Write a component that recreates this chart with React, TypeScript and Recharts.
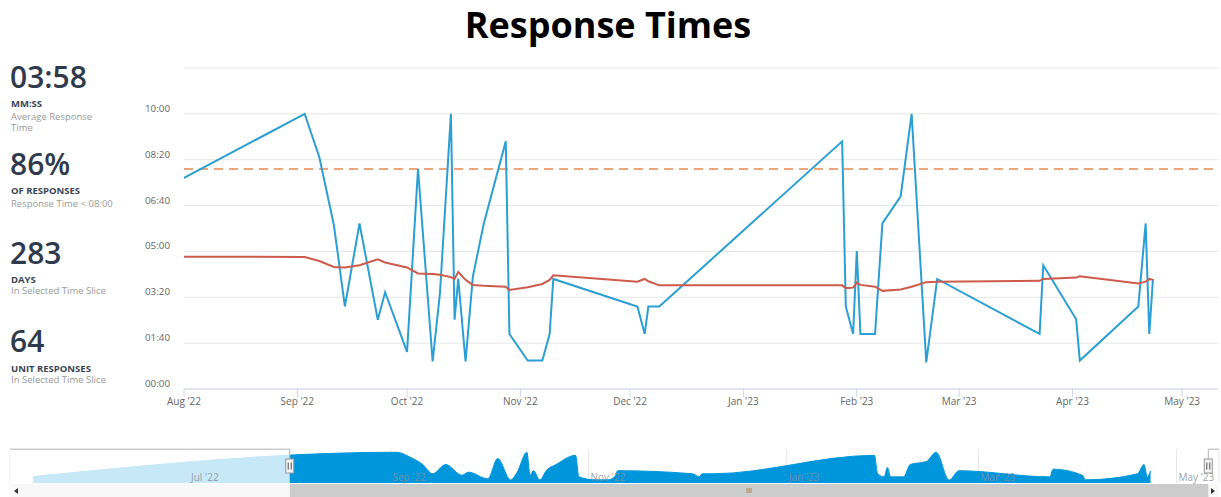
import React from 'react';
import {
  LineChart,
  Line,
  XAxis,
  YAxis,
  CartesianGrid,
  ReferenceLine,
  AreaChart,
  Area,
  ReferenceArea,
  ReferenceDot,
} from 'recharts';

// ---------- data ----------
const responseDates = [
  '2022-05-14', '2022-09-03', '2022-09-07', '2022-09-11', '2022-09-14', '2022-09-18',
  '2022-09-23', '2022-09-25', '2022-10-01', '2022-10-04', '2022-10-08', '2022-10-10',
  '2022-10-13', '2022-10-14', '2022-10-15', '2022-10-17', '2022-10-19', '2022-10-22',
  '2022-10-28', '2022-10-29', '2022-11-03', '2022-11-07', '2022-11-09', '2022-11-10',
  '2022-12-03', '2022-12-05', '2022-12-06', '2022-12-09', '2023-01-28', '2023-01-29',
  '2023-01-31', '2023-02-01', '2023-02-02', '2023-02-06', '2023-02-08', '2023-02-13',
  '2023-02-16', '2023-02-20', '2023-02-23', '2023-03-23', '2023-03-24', '2023-04-02',
  '2023-04-03', '2023-04-19', '2023-04-21', '2023-04-22', '2023-04-23',
];
// response time in seconds
const responseSeconds = [
  126, 600, 506, 357, 180, 361,
  151, 211, 81, 480, 60, 209,
  600, 151, 241, 60, 245, 361,
  540, 120, 62, 62, 120, 240,
  180, 120, 180, 180, 540, 180,
  120, 301, 120, 120, 361, 420,
  600, 58, 240, 120, 270, 152,
  62, 180, 361, 120, 240,
];
// running average response time in seconds
const averageSeconds = [
  290, 288, 279, 266, 265, 270,
  283, 276, 265, 252, 251, 249,
  244, 240, 255, 238, 227, 225,
  223, 216, 222, 229, 238, 248,
  234, 240, 235, 226, 226, 220,
  221, 232, 227, 223, 214, 217,
  223, 233, 234, 236, 240, 243,
  246, 230, 234, 240, 238,
];
const targetSeconds = 480;
const yTicks = [0, 100, 200, 300, 400, 500, 600, 700];
const monthTicks = [
  '2022-08-01', '2022-09-01', '2022-10-01', '2022-11-01', '2022-12-01',
  '2023-01-01', '2023-02-01', '2023-03-01', '2023-04-01', '2023-05-01',
];
const navigatorTicks = ['2022-07-01', '2022-09-01', '2022-11-01', '2023-01-01', '2023-03-01', '2023-05-01'];
const viewRange = ['2022-08-01T00:00:00Z', '2023-05-10T19:00:00Z'];
const navigatorRange = ['2022-05-06T21:00:00Z', '2023-05-14T02:00:00Z'];

const statValues = ['03:58', '86%', '283', '64'];
const statLabels = ['MM:SS', 'OF RESPONSES', 'DAYS', 'UNIT RESPONSES'];
const statNotes = ['Average Response Time', 'Response Time < 08:00', 'In Selected Time Slice', 'In Selected Time Slice'];

// ---------- helpers ----------
const FONT = '"Open Sans", "DejaVu Sans", sans-serif';
const ts = (s: string) => Date.parse(s.length === 10 ? s + 'T00:00:00Z' : s);
const MONTHS = ['Jan', 'Feb', 'Mar', 'Apr', 'May', 'Jun', 'Jul', 'Aug', 'Sep', 'Oct', 'Nov', 'Dec'];
const fmtMonth = (t: number) => {
  const d = new Date(t);
  return `${MONTHS[d.getUTCMonth()]} '${String(d.getUTCFullYear()).slice(2)}`;
};
const pad = (n: number) => String(n).padStart(2, '0');
const fmtMMSS = (v: number) => `${pad(Math.floor(v / 60))}:${pad(Math.round(v % 60))}`;

const data = responseDates.map((d, i) => ({
  t: ts(d),
  resp: responseSeconds[i],
  avg: averageSeconds[i],
}));

const viewStart = ts(viewRange[0]);
const viewEnd = ts(viewRange[1]);
const navStart = ts(navigatorRange[0]);
const navEnd = ts(navigatorRange[1]);
const NAV_MAX = 660;
const NAV_HANDLE = 332;

const YTick = (props: any) => {
  const { x, y, payload } = props;
  if (payload.value === 700) return <g />;
  return (
    <text x={x} y={y} dy={-2} textAnchor="end" fill="#666" fontSize={9.8} fontFamily={FONT}>
      {fmtMMSS(payload.value)}
    </text>
  );
};

const Handle = (props: any) => {
  const { cx, cy } = props;
  return (
    <g>
      <rect x={cx - 4} y={cy - 7} width={8} height={14} fill="#f2f2f2" stroke="#999" strokeWidth={1} />
      <line x1={cx - 1.5} x2={cx - 1.5} y1={cy - 3.5} y2={cy + 3.5} stroke="#555" strokeWidth={1} />
      <line x1={cx + 1.5} x2={cx + 1.5} y1={cy - 3.5} y2={cy + 3.5} stroke="#555" strokeWidth={1} />
    </g>
  );
};

const statTops = [62.3, 148.8, 238.3, 325.8];
const labelTops = [97.6, 184.9, 274.3, 362.6];
const noteTops = [110.6, 197.6, 284.9, 374.3];

export default function App() {
  return (
    <div
      style={{
        position: 'absolute',
        left: 0,
        top: 0,
        width: 1221,
        height: 497,
        overflow: 'hidden',
        background: '#fff',
        fontFamily: FONT,
      }}
    >
      <div
        style={{
          position: 'absolute',
          left: 0,
          top: 0,
          width: 1216,
          textAlign: 'center',
          fontSize: 36,
          fontWeight: 700,
          color: '#000',
          lineHeight: 'normal',
        }}
      >
        Response Times
      </div>

      {statValues.map((v, i) => (
        <React.Fragment key={i}>
          <div
            style={{
              position: 'absolute',
              left: 10,
              top: statTops[i],
              fontSize: 30,
              fontWeight: 600,
              color: '#2f3b4c',
              lineHeight: '30px',
            }}
          >
            {v}
          </div>
          <div
            style={{
              position: 'absolute',
              left: 11,
              top: labelTops[i],
              fontSize: 9.5,
              fontWeight: 700,
              color: '#3a4454',
              lineHeight: '11px',
              whiteSpace: 'nowrap',
            }}
          >
            {statLabels[i]}
          </div>
          <div
            style={{
              position: 'absolute',
              left: 11,
              top: noteTops[i],
              width: i === 0 ? 96 : undefined,
              whiteSpace: i === 0 ? 'normal' : 'nowrap',
              fontSize: 9.5,
              color: '#9a9a9a',
              lineHeight: '11px',
            }}
          >
            {statNotes[i]}
          </div>
        </React.Fragment>
      ))}

      <div style={{ position: 'absolute', left: 0, top: 0 }}>
        <LineChart width={1221} height={420} data={data} margin={{ top: 68, right: 3, left: 0, bottom: 1 }}>
          <CartesianGrid vertical={false} stroke="#e6e6e6" />
          <XAxis
            dataKey="t"
            type="number"
            scale="linear"
            domain={[viewStart, viewEnd]}
            allowDataOverflow
            ticks={monthTicks.map(ts)}
            tickFormatter={fmtMonth}
            height={30}
            tickSize={8}
            tickMargin={1}
            stroke="#ccd6eb"
            tick={{ fill: '#666', fontSize: 10, fontFamily: FONT }}
          />
          <YAxis
            type="number"
            domain={[0, 700]}
            ticks={yTicks}
            width={184}
            axisLine={false}
            tickLine={false}
            tickSize={0}
            tickMargin={14}
            tick={<YTick />}
            interval={0}
          />
          <ReferenceLine y={targetSeconds} stroke="#f0a47a" strokeWidth={2} strokeDasharray="9 6" />
          <Line
            type="linear"
            dataKey="resp"
            stroke="#2b9fd3"
            strokeWidth={2}
            dot={false}
            activeDot={false}
            isAnimationActive={false}
          />
          <Line
            type="linear"
            dataKey="avg"
            stroke="#cd5b4c"
            strokeWidth={2}
            dot={false}
            activeDot={false}
            isAnimationActive={false}
          />
        </LineChart>
      </div>

      <div style={{ position: 'absolute', left: 0, top: 440 }}>
        <AreaChart width={1221} height={57} data={data} margin={{ top: 9.2, right: 2, left: 10, bottom: 14 }}>
          <CartesianGrid horizontal={false} stroke="#e6e6e6" />
          <XAxis
            dataKey="t"
            type="number"
            domain={[navStart, navEnd]}
            ticks={navigatorTicks.map(ts)}
            allowDataOverflow
            hide
          />
          <YAxis type="number" domain={[0, NAV_MAX]} allowDataOverflow hide />
          <Area
            type="monotone"
            dataKey="resp"
            stroke="#0096dc"
            strokeWidth={1}
            fill="#0096dc"
            fillOpacity={1}
            dot={false}
            activeDot={false}
            isAnimationActive={false}
          />
          {navigatorTicks.map((d) => (
            <ReferenceLine
              key={d}
              x={ts(d)}
              stroke="none"
              strokeOpacity={0}
              label={{
                value: fmtMonth(ts(d)),
                position: 'insideBottomLeft',
                offset: 2,
                fill: '#8a8f99',
                fillOpacity: 0.85,
                fontSize: 10,
                fontFamily: FONT,
              }}
            />
          ))}
          <ReferenceArea x1={navStart} x2={viewStart} y1={0} y2={NAV_MAX} fill="#ffffff" fillOpacity={0.78} stroke="none" />
          <ReferenceLine segment={[{ x: navStart, y: NAV_MAX }, { x: viewStart, y: NAV_MAX }]} stroke="#b3b3b3" />
          <ReferenceLine segment={[{ x: viewStart, y: NAV_MAX }, { x: viewStart, y: NAV_HANDLE }]} stroke="#b3b3b3" />
          <ReferenceLine segment={[{ x: viewEnd, y: NAV_MAX }, { x: navEnd, y: NAV_MAX }]} stroke="#b3b3b3" />
          <ReferenceLine segment={[{ x: viewEnd, y: NAV_MAX }, { x: viewEnd, y: NAV_HANDLE }]} stroke="#b3b3b3" />
          <ReferenceArea x1={navStart} x2={navEnd} y1={-20} y2={-273} fill="#f2f2f2" stroke="none" ifOverflow="visible" />
          <ReferenceArea
            x1={viewStart}
            x2={viewEnd}
            y1={-20}
            y2={-273}
            fill="#cccccc"
            fillOpacity={1}
            stroke="none"
            ifOverflow="visible"
            label={{ value: 'III', position: 'center', fill: '#666', fontSize: 7, fontFamily: FONT }}
          />
          <ReferenceDot x={viewStart} y={NAV_HANDLE} r={5} shape={<Handle />} ifOverflow="visible" />
          <ReferenceDot x={viewEnd} y={NAV_HANDLE} r={5} shape={<Handle />} ifOverflow="visible" />
        </AreaChart>
      </div>

      <div
        style={{
          position: 'absolute',
          left: 14,
          top: 488,
          width: 0,
          height: 0,
          borderTop: '3px solid transparent',
          borderBottom: '3px solid transparent',
          borderRight: '4px solid #333',
        }}
      />
      <div
        style={{
          position: 'absolute',
          left: 1211,
          top: 488,
          width: 0,
          height: 0,
          borderTop: '3px solid transparent',
          borderBottom: '3px solid transparent',
          borderLeft: '4px solid #333',
        }}
      />
    </div>
  );
}
